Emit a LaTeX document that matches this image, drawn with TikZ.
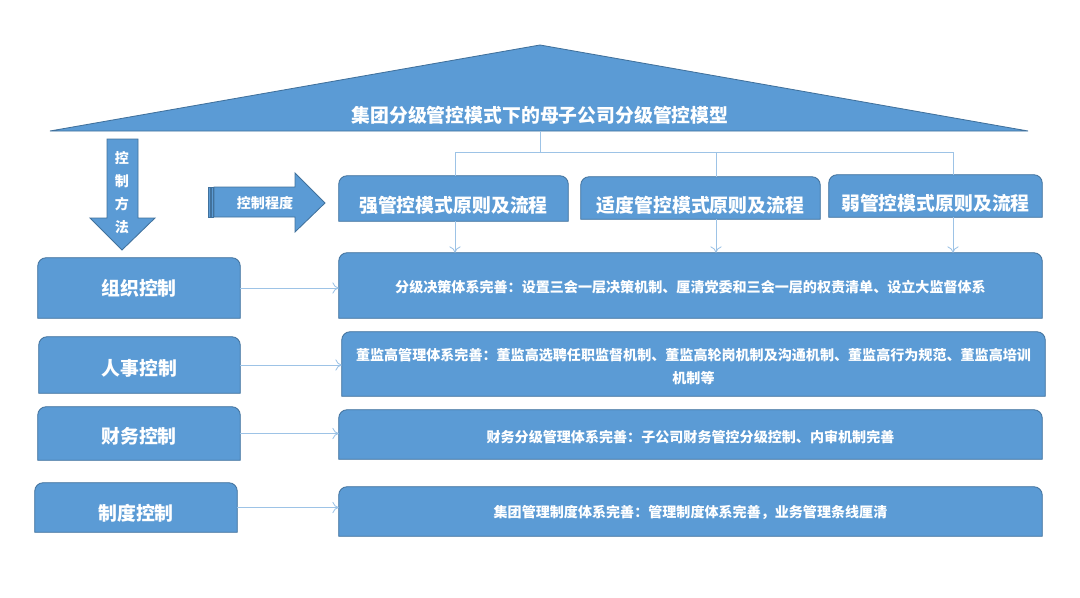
\documentclass[tikz,border=0pt]{standalone}
\usepackage{fontspec}
\newfontfamily\cjk{Noto Sans CJK SC}
\usetikzlibrary{arrows.meta}
\usetikzlibrary{fit,backgrounds}
\definecolor{boxblue}{HTML}{5B9BD5}
\definecolor{edgeblue}{HTML}{41719C}
\definecolor{linkblue}{HTML}{9DC3E6}
\tikzset{
  frame/.style={fill=boxblue,draw=edgeblue,line width=0.6pt},
  cell/.style={inner sep=0pt,text=white},
  big/.style={cell,font=\cjk\bfseries\fontsize{13.4}{16}\selectfont},
  small/.style={cell,font=\cjk\bfseries\fontsize{10}{16.4}\selectfont},
  link/.style={draw=linkblue,line width=0.6pt},
  arr/.style={link,-{Computer Modern Rightarrow[length=4.5pt,width=8pt]}}
}
\newcommand\roundtop[1]{%
  \path[frame] (#1.south west) -- ([yshift=-6pt]#1.north west)
    arc[start angle=180,end angle=90,radius=6pt] -- ([xshift=-6pt]#1.north east)
    arc[start angle=90,end angle=0,radius=6pt] -- (#1.south east) -- cycle;}

\begin{document}
\begin{tikzpicture}[x=0.025cm,y=-0.025cm]
\useasboundingbox (0,0) rectangle (1080,598);
% roof
\path[frame] (50,131) -- (540,45) -- (1028,131) -- cycle;
\node[big] (title) at (540,115) {集团分级管控模式下的母子公司分级管控模型};
\coordinate (base) at (540,131);
\coordinate (hub) at (540,152);
\coordinate (dropA) at (455,152);
\coordinate (dropB) at (716,152);
\coordinate (dropC) at (953,152);
% arrows: method and degree
\path[frame] (107,139) -- (138,139) -- (138,218) -- (155,218) -- (122,250)
  -- (90,218) -- (107,218) -- cycle;
\node[small,align=center] (method) at (122,193) {控\\制\\方\\法};
\path[frame] (214,187) -- (295,187) -- (295,173) -- (325,203) -- (295,232)
  -- (295,217) -- (214,217) -- cycle;
\path[frame] (208,187) rectangle (210,217);
\path[frame] (211,187) rectangle (213,217);
\node[small] (degree) at (265,203) {控制程度};
% degree boxes
\node[cell,fit={(339,176) (568,221)},label={[big,yshift=-4.6pt]center:强管控模式原则及流程}] (strong) {};
\node[cell,fit={(581,177) (820,219)},label={[big,yshift=-5.4pt]center:适度管控模式原则及流程}] (moderate) {};
\node[cell,fit={(829,175) (1042,217)},label={[big,yshift=-5.4pt]center:弱管控模式原则及流程}] (weak) {};
% method boxes
\node[cell,fit={(38,258) (240,318)},label={[big]center:组织控制}] (org) {};
\node[cell,fit={(39,337) (240,393)},label={[big,yshift=-2.1pt]center:人事控制}] (hr) {};
\node[cell,fit={(38,407) (240,460)},label={[big,yshift=-1.8pt]center:财务控制}] (fin) {};
\node[cell,fit={(35,483) (237,532)},label={[big,yshift=-3.9pt]center:制度控制}] (rule) {};
% contents
\node[cell,fit={(339,253) (1042,318)},label={[small,yshift=-1pt]center:
  分级决策体系完善：设置三会一层决策机制、厘清党委和三会一层的权责清单、设立大监督体系}] (orgsys) {};
\node[cell,fit={(342,332) (1045,396)},label={[small,align=center,yshift=-1.8pt]center:
  董监高管理体系完善：董监高选聘任职监督机制、董监高轮岗机制及沟通机制、董监高行为规范、董监高培训\\机制等}] (hrsys) {};
\node[cell,fit={(339,410) (1042,459)},label={[small,yshift=-1.8pt]center:
  财务分级管理体系完善：子公司财务管控分级控制、内审机制完善}] (finsys) {};
\node[cell,fit={(339,487) (1042,536)},label={[small,yshift=-1pt]center:
  集团管理制度体系完善：管理制度体系完善，业务管理条线厘清}] (rulesys) {};
\begin{scope}[on background layer]
\foreach \b in {strong,moderate,weak,org,hr,fin,rule,orgsys,hrsys,finsys,rulesys}
  {\roundtop{\b}}
\end{scope}
% connectors
\draw[link] (base) -- (hub);
\draw[link] (dropA) -- (dropC);
\draw[link] (dropA) -- (dropA |- strong.north);
\draw[link] (dropB) -- (dropB |- moderate.north);
\draw[link] (dropC) -- (dropC |- weak.north);
\draw[arr] (dropA |- strong.south) -- (dropA |- orgsys.north);
\draw[arr] (dropB |- moderate.south) -- (dropB |- orgsys.north);
\draw[arr] (dropC |- weak.south) -- (dropC |- orgsys.north);
\draw[arr] (org.east) -- (org.east -| orgsys.west);
\draw[arr] (hr.east) -- (hr.east -| hrsys.west);
\draw[arr] (fin.east) -- (fin.east -| finsys.west);
\draw[arr] (rule.east) -- (rule.east -| rulesys.west);
\end{tikzpicture}
\end{document}
